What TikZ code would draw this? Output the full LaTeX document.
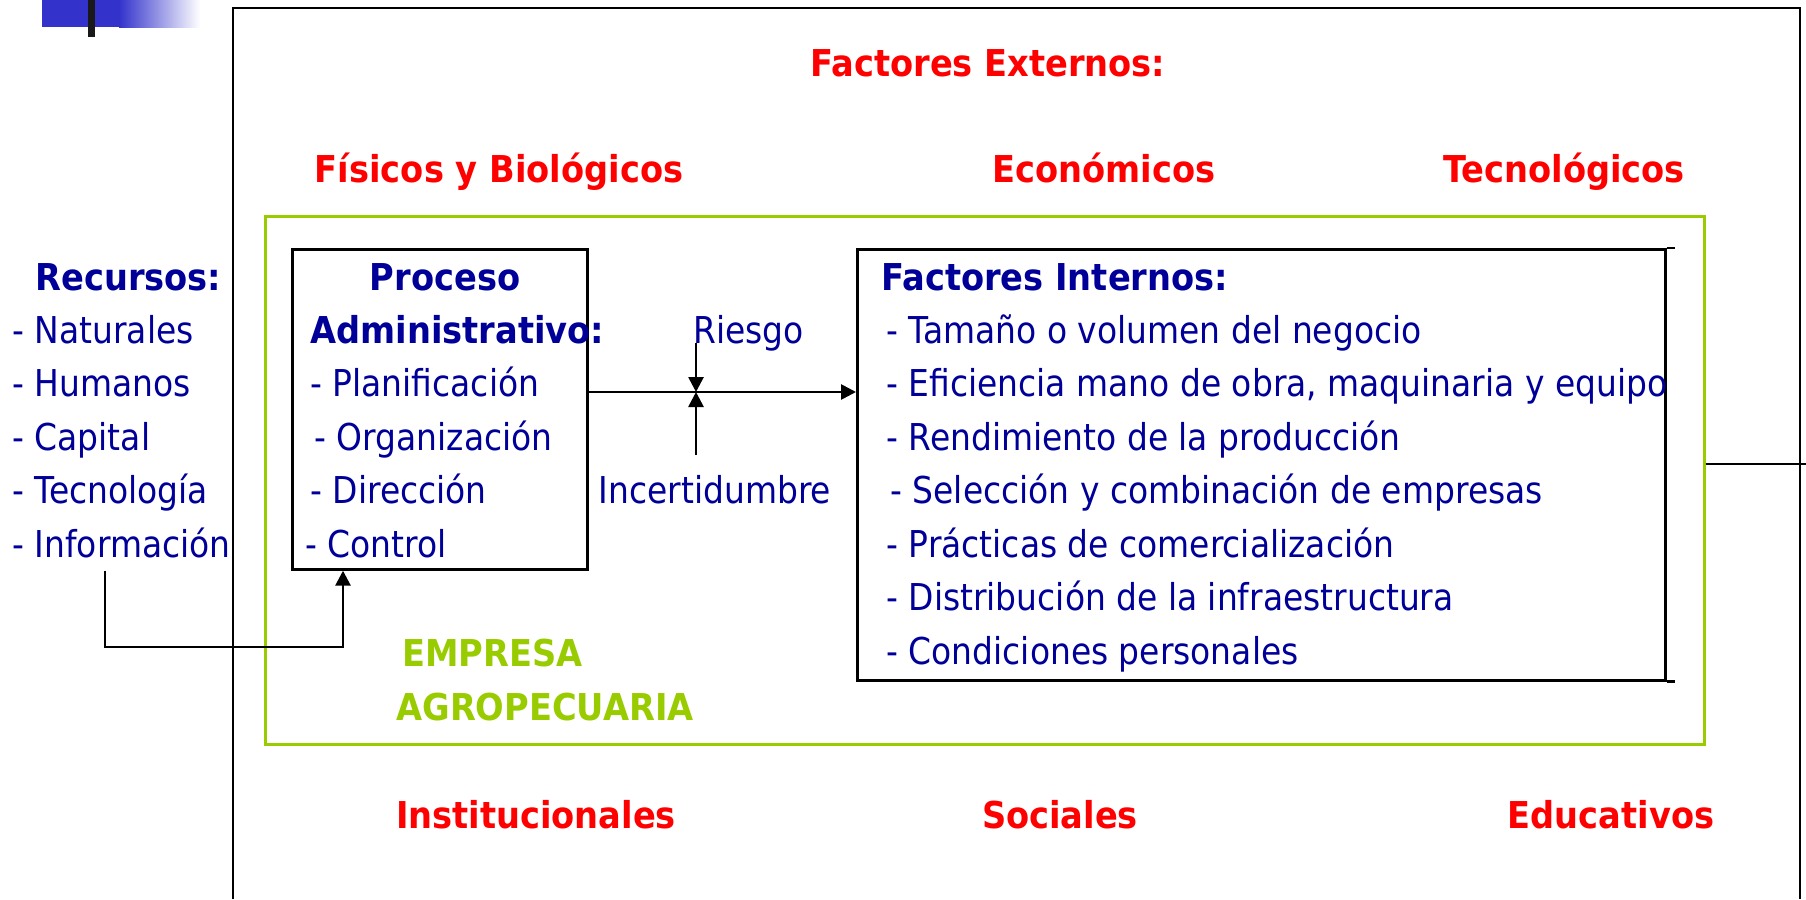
\documentclass[tikz,border=0pt]{standalone}
\usepackage{fontspec}
\setmainfont[FakeStretch=0.89, BoldFeatures={FakeStretch=0.91}]{DejaVu Sans}
\usetikzlibrary{arrows.meta}
\definecolor{azulosc}{RGB}{0,0,153}
\definecolor{rojoext}{RGB}{255,0,0}
\definecolor{verdeemp}{RGB}{153,204,0}
\definecolor{azulbarra}{RGB}{51,51,204}

\begin{document}
\begin{tikzpicture}[x=1pt, y=-1pt, line width=2.7pt,
    every node/.style={font=\fontsize{37}{44}\selectfont, inner sep=0pt},
    externo/.style={font=\fontsize{37}{44}\selectfont\bfseries, text=rojoext, anchor=base},
    titulo/.style={font=\fontsize{37}{44}\selectfont\bfseries, text=azulosc, anchor=base west},
    item/.style={text=azulosc, anchor=base west},
    caja/.style={draw, rectangle, anchor=north west},
    flecha/.style={-{Triangle[length=15pt, width=15pt]}}]
  \useasboundingbox (0,0) rectangle (1806,899);

  \fill[azulbarra] (42,0) rectangle (120,27);
  \shade[left color=azulbarra, right color=white] (119,0) rectangle (200,28);
  \fill[black!90] (88,0) rectangle (95,37);

  \draw (233,899) -- (233,8) -- (1800,8) -- (1800,899);

  \node (empresa)  [caja, draw=verdeemp, minimum width=1439pt, minimum height=528pt] at (264,215) {};
  \node (proceso)  [caja, minimum width=295pt, minimum height=320pt] at (291,248) {};
  \node (internos) [caja, minimum width=808pt, minimum height=431pt] at (856,248) {};
  \draw (internos.north east) -- ++(8,0);
  \draw (internos.south east) -- ++(8,0);

  \node (extern) [externo] at (988,76)   {Factores Externos:};
  \node (fisico) [externo] at (499,182)  {Físicos y Biológicos};
  \node (econom) [externo] at (1104,182) {Económicos};
  \node (tecnol) [externo] at (1564,182) {Tecnológicos};
  \node (instit) [externo] at (536,828)  {Institucionales};
  \node (social) [externo] at (1060,828) {Sociales};
  \node (educat) [externo] at (1611,828) {Educativos};

  \node (rtit) [titulo] at (34,290)  {Recursos:};
  \node (r1)   [item]   at (11,343)  {- Naturales};
  \node (r2)   [item]   at (11,396)  {- Humanos};
  \node (r3)   [item]   at (11,450)  {- Capital};
  \node (r4)   [item]   at (11,503)  {- Tecnología};
  \node (r5)   [item]   at (11,557)  {- Información};

  \node (ptit)  [titulo, anchor=base] at (445,290) {Proceso};
  \node (ptit2) [titulo] at (309,343) {Administrativo:};
  \node (p1)    [item]   at (309,396) {- Planificación};
  \node (p2)    [item]   at (313,450) {- Organización};
  \node (p3)    [item]   at (309,503) {- Dirección};
  \node (p4)    [item]   at (304,557) {- Control};

  \node (riesgo) [item] at (692,343) {Riesgo};
  \node (incert) [item, anchor=base] at (715,503) {Incertidumbre};

  \node (ftit) [titulo] at (880,290) {Factores Internos:};
  \node (f1)   [item]   at (885,343) {- Tamaño o volumen del negocio};
  \node (f2)   [item]   at (885,396) {- Eficiencia mano de obra, maquinaria y equipo};
  \node (f3)   [item]   at (885,450) {- Rendimiento de la producción};
  \node (f4)   [item]   at (889,503) {- Selección y combinación de empresas};
  \node (f5)   [item]   at (885,557) {- Prácticas de comercialización};
  \node (f6)   [item]   at (885,610) {- Distribución de la infraestructura};
  \node (f7)   [item]   at (885,664) {- Condiciones personales};

  \node (emp1) [titulo, text=verdeemp] at (401,666) {EMPRESA};
  \node (emp2) [titulo, text=verdeemp] at (395,720) {AGROPECUARIA};

  \coordinate (cruce) at (696,392);
  \coordinate (bajo)  at (696,455);
  \coordinate (codo)  at (105,647);
  \coordinate (entrada) at (343,647);
  \coordinate (borde) at (1806,464);

  \draw[flecha] (proceso.east |- cruce) -- (internos.west |- cruce);
  \draw[flecha] (cruce |- riesgo.base) -- (cruce);
  \draw[flecha] (bajo) -- (cruce);
  \draw[flecha] (codo |- proceso.south) -- (codo) -- (entrada) -- (entrada |- proceso.south);
  \draw (empresa.east |- borde) -- (borde);
\end{tikzpicture}
\end{document}
